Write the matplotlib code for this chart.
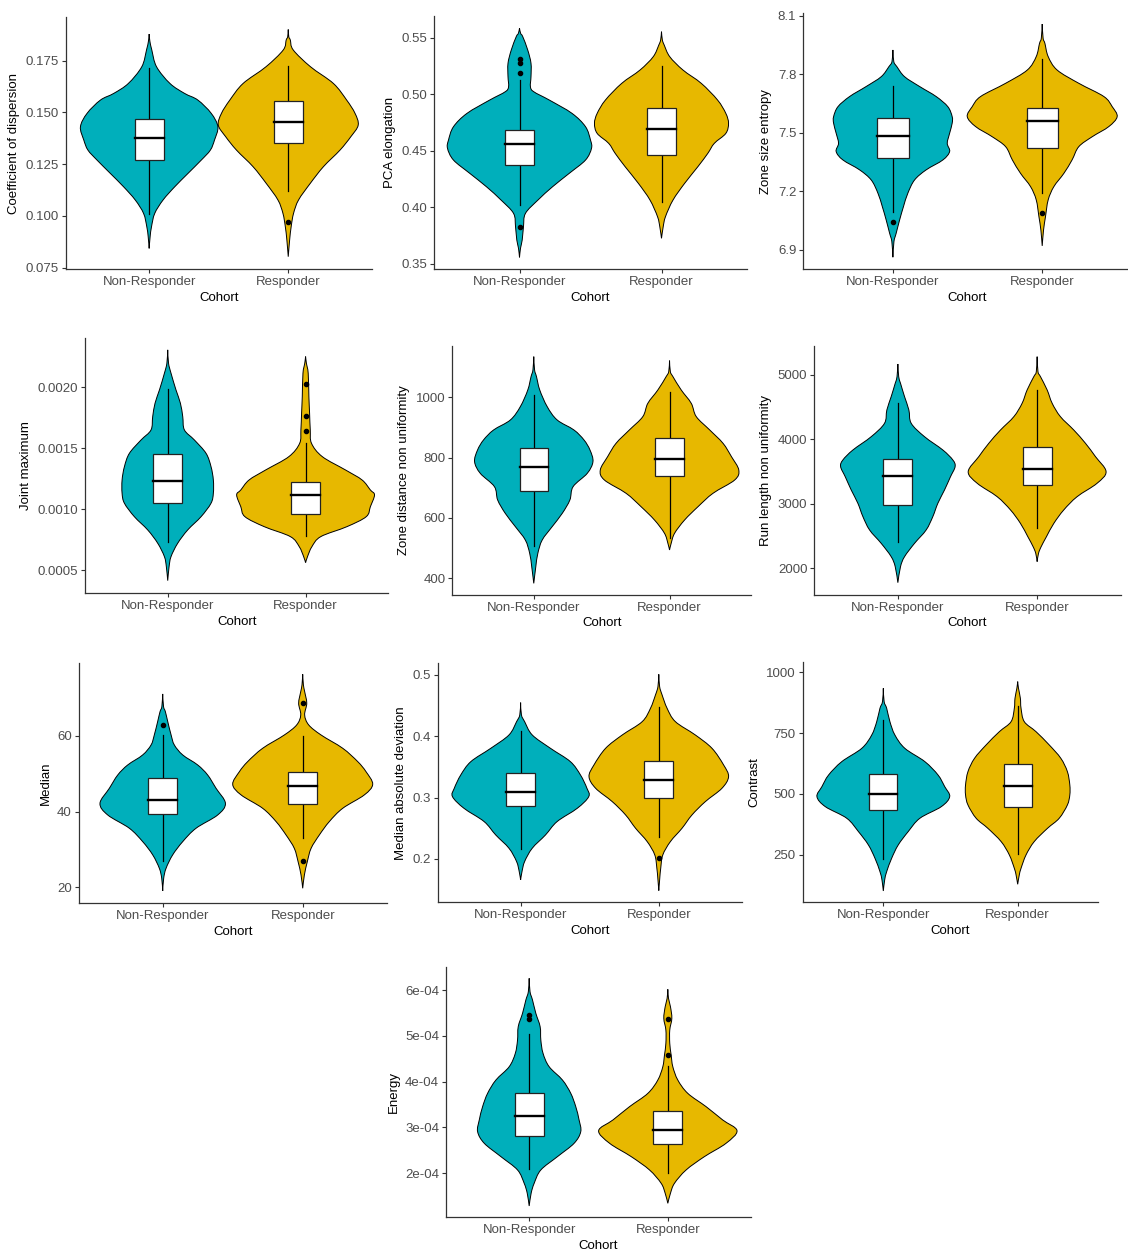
import matplotlib
matplotlib.use("Agg")
import matplotlib.pyplot as plt
from matplotlib.path import Path
from matplotlib.patches import PathPatch

plt.rcParams['font.family'] = ['Liberation Sans', 'DejaVu Sans']

groups = ["Non-Responder", "Responder"]
colors = ["#00AFBB", "#E7B800"]

# --- Coefficient of dispersion
cod_nr_y = [0.1879, 0.1845, 0.1802, 0.1721, 0.1640, 0.1592, 0.1560, 0.1496, 0.1431, 0.1367,
            0.1318, 0.1270, 0.1206, 0.1141, 0.1077, 0.1012, 0.0948, 0.0900, 0.0843]
cod_nr_w = [0, 0.005, 0.019, 0.053, 0.15, 0.255, 0.35, 0.446, 0.494, 0.47,
            0.44, 0.375, 0.28, 0.184, 0.10, 0.04, 0.017, 0.007, 0]
cod_r_y = [0.1901, 0.1866, 0.1850, 0.1802, 0.1721, 0.1640, 0.1560, 0.1496, 0.1439, 0.1383,
           0.1318, 0.1238, 0.1157, 0.1077, 0.1012, 0.0948, 0.0884, 0.0803]
cod_r_w = [0, 0.004, 0.015, 0.036, 0.16, 0.325, 0.42, 0.48, 0.503, 0.45,
           0.372, 0.253, 0.158, 0.074, 0.038, 0.021, 0.01, 0]
cod_nr_box = [0.1008, 0.1272, 0.1378, 0.1467, 0.1713]
cod_r_box = [0.1120, 0.1351, 0.1455, 0.1555, 0.1724]
cod_nr_out = []
cod_r_out = [0.0969]

# --- PCA elongation
pca_nr_y = [0.5583, 0.5538, 0.5509, 0.5391, 0.5273, 0.5156, 0.5066, 0.5022, 0.4948, 0.4830, 0.4712,
            0.4594, 0.4521, 0.4417, 0.4299, 0.4181, 0.4063, 0.3945, 0.3827, 0.3709, 0.3636, 0.3556]
pca_nr_w = [0, 0.008, 0.023, 0.058, 0.081, 0.081, 0.077, 0.10, 0.21, 0.37, 0.465,
            0.50, 0.507, 0.465, 0.35, 0.233, 0.13, 0.042, 0.028, 0.019, 0.007, 0]
pca_r_y = [0.5553, 0.5480, 0.5435, 0.5332, 0.5214, 0.5096, 0.4948, 0.4830, 0.4742, 0.4653,
           0.4565, 0.4476, 0.4358, 0.4211, 0.4063, 0.3916, 0.3827, 0.3724]
pca_r_w = [0, 0.006, 0.019, 0.058, 0.151, 0.28, 0.395, 0.453, 0.472, 0.453,
           0.372, 0.326, 0.256, 0.163, 0.081, 0.028, 0.012, 0]
pca_nr_box = [0.4019, 0.4376, 0.4559, 0.4686, 0.5125]
pca_r_box = [0.4043, 0.4462, 0.4692, 0.4875, 0.5249]
pca_nr_out = [0.531, 0.528, 0.519, 0.382]
pca_r_out = []

# --- Zone size entropy
zse_nr_y = [7.924, 7.864, 7.838, 7.787, 7.736, 7.685, 7.633, 7.582, 7.548, 7.497, 7.445,
            7.403, 7.360, 7.309, 7.257, 7.189, 7.121, 7.052, 6.984, 6.941, 6.861]
zse_nr_w = [0, 0.006, 0.027, 0.078, 0.18, 0.29, 0.368, 0.397, 0.397, 0.38, 0.364,
            0.38, 0.335, 0.223, 0.145, 0.10, 0.071, 0.045, 0.022, 0.007, 0]
zse_r_y = [8.057, 7.984, 7.958, 7.890, 7.821, 7.753, 7.685, 7.633, 7.582, 7.531,
           7.479, 7.428, 7.360, 7.291, 7.223, 7.155, 7.069, 7.001, 6.919]
zse_r_w = [0, 0.006, 0.018, 0.04, 0.10, 0.245, 0.413, 0.469, 0.502, 0.446,
           0.335, 0.245, 0.20, 0.145, 0.078, 0.04, 0.022, 0.009, 0]
zse_nr_box = [7.095, 7.368, 7.485, 7.577, 7.739]
zse_r_box = [7.192, 7.423, 7.562, 7.625, 7.876]
zse_nr_out = [7.044]
zse_r_out = [7.090]

# --- Joint maximum
jm_nr_y = [0.002307, 0.002197, 0.002115, 0.001978, 0.001869, 0.001759, 0.001650, 0.001568,
           0.001458, 0.001349, 0.001239, 0.001130, 0.001048, 0.000938, 0.000829, 0.000719,
           0.000610, 0.000528, 0.000413]
jm_nr_w = [0, 0.006, 0.024, 0.06, 0.092, 0.109, 0.121, 0.193,
           0.278, 0.314, 0.331, 0.331, 0.314, 0.242, 0.145, 0.072,
           0.024, 0.01, 0]
jm_r_y = [0.002252, 0.002197, 0.002115, 0.001923, 0.001787, 0.001650, 0.001540, 0.001431,
          0.001321, 0.001239, 0.001157, 0.001116, 0.001020, 0.000938, 0.000856, 0.000774,
          0.000692, 0.000610, 0.000560]
jm_r_w = [0, 0.006, 0.019, 0.024, 0.029, 0.034, 0.043, 0.121,
          0.29, 0.41, 0.47, 0.50, 0.47, 0.44, 0.30, 0.11,
          0.046, 0.014, 0]
jm_nr_box = [0.000733, 0.001048, 0.001228, 0.00145, 0.001986]
jm_r_box = [0.000782, 0.00096, 0.001113, 0.001225, 0.00154]
jm_nr_out = []
jm_r_out = [0.002027, 0.001765, 0.001644]

# --- Zone distance non uniformity
zdn_nr_y = [1134.8, 1090.6, 1068.5, 1024.3, 969, 925, 891.7, 858.6, 825.4, 786.7,
            748, 704, 659.7, 615.5, 571, 526.9, 482.8, 438.6, 383.4]
zdn_nr_w = [0, 0.006, 0.02, 0.044, 0.099, 0.172, 0.296, 0.37, 0.414, 0.436,
            0.394, 0.29, 0.266, 0.21, 0.135, 0.062, 0.03, 0.015, 0]
zdn_r_y = [1121.5, 1085, 1068.5, 1024.3, 980, 935.9, 891.7, 847.5, 803.3,
           759.1, 726, 681.8, 637.6, 593.4, 549.2, 516, 494]
zdn_r_w = [0, 0.006, 0.025, 0.086, 0.16, 0.197, 0.296, 0.394, 0.456,
           0.51, 0.48, 0.32, 0.21, 0.111, 0.037, 0.012, 0]
zdn_nr_box = [508.3, 689.5, 768, 833, 1007.7]
zdn_r_box = [534.8, 740.3, 795.6, 864, 1018.8]
zdn_nr_out = []
zdn_r_out = []

# --- Run length non uniformity
rln_nr_y = [5165, 4969, 4866, 4659, 4453, 4246, 4040, 3833, 3678, 3575,
            3420, 3214, 3007, 2801, 2594, 2388, 2181, 2026, 1778]
rln_nr_w = [0, 0.006, 0.019, 0.048, 0.079, 0.096, 0.191, 0.323, 0.395, 0.411,
            0.378, 0.335, 0.287, 0.251, 0.203, 0.12, 0.048, 0.019, 0]
rln_r_y = [5279, 5046, 4969, 4763, 4556, 4350, 4143, 3937, 3730,
           3498, 3317, 3110, 2904, 2697, 2491, 2336, 2233, 2104]
rln_r_w = [0, 0.006, 0.024, 0.072, 0.108, 0.167, 0.263, 0.347, 0.419,
           0.495, 0.43, 0.287, 0.191, 0.12, 0.067, 0.029, 0.01, 0]
rln_nr_box = [2403, 2976, 3431, 3689, 4556]
rln_r_box = [2630, 3291, 3534, 3885, 4763]
rln_nr_out = []
rln_r_out = []

# --- Median
med_nr_y = [71.1, 67.75, 66.43, 63.79, 60.26, 57.62, 54.98, 52.33, 49.69,
            46.17, 42.20, 39.12, 35.60, 32.07, 28.55, 25.02, 22.38, 19.03]
med_nr_w = [0, 0.006, 0.019, 0.036, 0.06, 0.083, 0.143, 0.25, 0.321,
            0.381, 0.448, 0.393, 0.238, 0.143, 0.071, 0.024, 0.007, 0]
med_r_y = [76.3, 73.5, 71.72, 68.63, 65.55, 62.91, 60.26, 56.74, 53.22, 50.57,
           47.22, 44.41, 40.88, 37.36, 33.83, 30.30, 26.78, 23.26, 19.74]
med_r_w = [0, 0.005, 0.014, 0.029, 0.014, 0.043, 0.131, 0.286, 0.393, 0.452,
           0.5, 0.44, 0.286, 0.19, 0.119, 0.06, 0.033, 0.012, 0]
med_nr_box = [27.05, 39.3, 43.0, 48.81, 60.26]
med_r_box = [33.13, 42.03, 46.87, 50.57, 60.0]
med_nr_out = [63.0]
med_r_out = [68.81, 26.96]

# --- Median absolute deviation
mad_nr_y = [0.4549, 0.4348, 0.4239, 0.4022, 0.3804, 0.3587, 0.3370, 0.3152,
            0.3016, 0.2826, 0.2609, 0.2391, 0.2174, 0.1957, 0.1793, 0.1658]
mad_nr_w = [0, 0.006, 0.029, 0.084, 0.216, 0.36, 0.433, 0.48,
            0.493, 0.41, 0.264, 0.18, 0.084, 0.029, 0.01, 0]
mad_r_y = [0.501, 0.481, 0.4674, 0.4457, 0.4239, 0.4022, 0.3804, 0.3533, 0.3342,
           0.3152, 0.2935, 0.2717, 0.2500, 0.2283, 0.2065, 0.1848, 0.1685, 0.1484]
mad_r_w = [0, 0.006, 0.024, 0.06, 0.12, 0.264, 0.385, 0.469, 0.505,
           0.457, 0.337, 0.24, 0.168, 0.084, 0.029, 0.014, 0.007, 0]
mad_nr_box = [0.2158, 0.287, 0.3092, 0.3397, 0.4087]
mad_r_box = [0.2364, 0.2989, 0.3293, 0.3598, 0.4484]
mad_nr_out = []
mad_r_out = [0.2011]

# --- Contrast
con_nr_y = [934, 879.3, 851.9, 797, 742.2, 687.3, 632.5, 577.6, 529.6,
            488.5, 447.4, 399.4, 344.5, 289.7, 234.8, 180, 145.7, 100.4]
con_nr_w = [0, 0.006, 0.025, 0.049, 0.086, 0.16, 0.309, 0.407, 0.457,
            0.494, 0.432, 0.272, 0.185, 0.111, 0.062, 0.025, 0.01, 0]
con_r_y = [961.6, 934.2, 893, 851.9, 797, 755.9, 701, 646.2, 591.3, 536.5,
           495.4, 454.2, 399.4, 358.2, 303.4, 248.5, 193.7, 166.3, 127.9]
con_r_w = [0, 0.006, 0.02, 0.025, 0.049, 0.136, 0.235, 0.321, 0.37, 0.388,
           0.388, 0.37, 0.309, 0.222, 0.123, 0.062, 0.025, 0.012, 0]
con_nr_box = [230.7, 432.3, 498.1, 580.4, 804]
con_r_box = [251.3, 446, 533.8, 621.5, 862.9]
con_nr_out = []
con_r_out = []

# --- Energy
en_nr_y = [6.255e-4, 5.964e-4, 5.782e-4, 5.491e-4, 5.2e-4, 4.909e-4, 4.618e-4, 4.327e-4,
           4.036e-4, 3.745e-4, 3.455e-4, 3.164e-4, 2.909e-4, 2.655e-4, 2.364e-4, 2.073e-4,
           1.782e-4, 1.564e-4, 1.287e-4]
en_nr_w = [0, 0.006, 0.024, 0.048, 0.079, 0.084, 0.1, 0.144,
           0.24, 0.3, 0.336, 0.36, 0.372, 0.324, 0.204, 0.084,
           0.036, 0.014, 0]
en_r_y = [6.015e-4, 5.818e-4, 5.636e-4, 5.382e-4, 5.127e-4, 4.836e-4, 4.582e-4, 4.327e-4,
          4.036e-4, 3.745e-4, 3.455e-4, 3.164e-4, 2.931e-4, 2.655e-4, 2.364e-4, 2.073e-4,
          1.782e-4, 1.564e-4, 1.345e-4]
en_r_w = [0, 0.005, 0.019, 0.029, 0.014, 0.014, 0.024, 0.036,
          0.072, 0.144, 0.276, 0.396, 0.499, 0.42, 0.264, 0.132,
          0.048, 0.019, 0]
en_nr_box = [2.102e-4, 2.822e-4, 3.258e-4, 3.76e-4, 5.04e-4]
en_r_box = [2.0e-4, 2.633e-4, 2.953e-4, 3.367e-4, 4.342e-4]
en_nr_out = [5.455e-4, 5.36e-4]
en_r_out = [5.375e-4, 4.575e-4]

# y axis: label, tick values, tick labels
panels = [
    ("Coefficient of dispersion", [0.075, 0.100, 0.125, 0.150, 0.175],
     ["0.075", "0.100", "0.125", "0.150", "0.175"],
     [(cod_nr_y, cod_nr_w, cod_nr_box, cod_nr_out), (cod_r_y, cod_r_w, cod_r_box, cod_r_out)]),
    ("PCA elongation", [0.35, 0.40, 0.45, 0.50, 0.55],
     ["0.35", "0.40", "0.45", "0.50", "0.55"],
     [(pca_nr_y, pca_nr_w, pca_nr_box, pca_nr_out), (pca_r_y, pca_r_w, pca_r_box, pca_r_out)]),
    ("Zone size entropy", [6.9, 7.2, 7.5, 7.8, 8.1],
     ["6.9", "7.2", "7.5", "7.8", "8.1"],
     [(zse_nr_y, zse_nr_w, zse_nr_box, zse_nr_out), (zse_r_y, zse_r_w, zse_r_box, zse_r_out)]),
    ("Joint maximum", [0.0005, 0.0010, 0.0015, 0.0020],
     ["0.0005", "0.0010", "0.0015", "0.0020"],
     [(jm_nr_y, jm_nr_w, jm_nr_box, jm_nr_out), (jm_r_y, jm_r_w, jm_r_box, jm_r_out)]),
    ("Zone distance non uniformity", [400, 600, 800, 1000],
     ["400", "600", "800", "1000"],
     [(zdn_nr_y, zdn_nr_w, zdn_nr_box, zdn_nr_out), (zdn_r_y, zdn_r_w, zdn_r_box, zdn_r_out)]),
    ("Run length non uniformity", [2000, 3000, 4000, 5000],
     ["2000", "3000", "4000", "5000"],
     [(rln_nr_y, rln_nr_w, rln_nr_box, rln_nr_out), (rln_r_y, rln_r_w, rln_r_box, rln_r_out)]),
    ("Median", [20, 40, 60],
     ["20", "40", "60"],
     [(med_nr_y, med_nr_w, med_nr_box, med_nr_out), (med_r_y, med_r_w, med_r_box, med_r_out)]),
    ("Median absolute deviation", [0.2, 0.3, 0.4, 0.5],
     ["0.2", "0.3", "0.4", "0.5"],
     [(mad_nr_y, mad_nr_w, mad_nr_box, mad_nr_out), (mad_r_y, mad_r_w, mad_r_box, mad_r_out)]),
    ("Contrast", [250, 500, 750, 1000],
     ["250", "500", "750", "1000"],
     [(con_nr_y, con_nr_w, con_nr_box, con_nr_out), (con_r_y, con_r_w, con_r_box, con_r_out)]),
    ("Energy", [2e-4, 3e-4, 4e-4, 5e-4, 6e-4],
     ["2e-04", "3e-04", "4e-04", "5e-04", "6e-04"],
     [(en_nr_y, en_nr_w, en_nr_box, en_nr_out), (en_r_y, en_r_w, en_r_box, en_r_out)]),
]

# panel frames in pixels (left, top, right, bottom) and y range
frames = [
    (65.7, 17.3, 371.7, 269.3, 0.0742, 0.196),
    (434.3, 16.0, 746.7, 269.3, 0.345, 0.5692),
    (803.3, 13.3, 1131.8, 269.3, 6.799, 8.112),
    (85.0, 338.3, 388.3, 593.3, 0.000309, 0.002402),
    (452.3, 346.0, 751.0, 595.0, 344.8, 1170),
    (814.3, 346.0, 1120.7, 595.0, 1587, 5444),
    (78.7, 663.3, 386.7, 903.3, 15.77, 79.2),
    (437.7, 663.3, 741.7, 902.3, 0.1293, 0.519),
    (802.7, 662.3, 1098.3, 902.3, 53.8, 1041),
    (446.0, 966.7, 751.0, 1217.3, 1.04e-4, 6.509e-4),
]


def smooth_side(pts):
    # Catmull-Rom through the outline points, written as cubic Bezier segments
    verts, codes = [], []
    n = len(pts)
    for i in range(n - 1):
        p0 = pts[max(i - 1, 0)]
        p1 = pts[i]
        p2 = pts[i + 1]
        p3 = pts[min(i + 2, n - 1)]
        c1 = (p1[0] + (p2[0] - p0[0]) / 6, p1[1] + (p2[1] - p0[1]) / 6)
        c2 = (p2[0] - (p3[0] - p1[0]) / 6, p2[1] - (p3[1] - p1[1]) / 6)
        verts += [c1, c2, p2]
        codes += [Path.CURVE4] * 3
    return verts, codes


def violin_path(x, ys, ws):
    right = [(x + w, y) for y, w in zip(ys, ws)]
    left = [(x - w, y) for y, w in zip(ys, ws)][::-1]
    v1, c1 = smooth_side(right)
    v2, c2 = smooth_side(left)
    verts = [right[0]] + v1 + v2 + [right[0]]
    codes = [Path.MOVETO] + c1 + c2 + [Path.CLOSEPOLY]
    return Path(verts, codes)


W, H = 1128, 1255
fig = plt.figure(figsize=(W / 100, H / 100), dpi=100)

box_half = 0.105

for (ylabel, ticks, ticklabels, data), (l, t, r, b, y0, y1) in zip(panels, frames):
    ax = fig.add_axes([l / W, 1 - b / H, (r - l) / W, (b - t) / H])
    for i, (vy, vw, bx, outl) in enumerate(data):
        x = i + 1
        ax.add_patch(PathPatch(violin_path(x, vy, vw), facecolor=colors[i],
                               edgecolor="black", linewidth=0.7, zorder=2))
        lo, q1, med, q3, hi = bx
        ax.plot([x, x], [lo, q1], color="black", lw=0.9, zorder=3)
        ax.plot([x, x], [q3, hi], color="black", lw=0.9, zorder=3)
        ax.add_patch(plt.Rectangle((x - box_half, q1), 2 * box_half, q3 - q1,
                                   facecolor="white", edgecolor="#222222", lw=0.9, zorder=4))
        ax.plot([x - box_half, x + box_half], [med, med], color="black", lw=1.7, zorder=5)
        if outl:
            ax.scatter([x] * len(outl), outl, s=9, color="black", zorder=6)
    ax.set_xlim(0.4, 2.6)
    ax.set_ylim(y0, y1)
    ax.set_xticks([1, 2])
    ax.set_xticklabels(groups)
    ax.set_yticks(ticks)
    ax.set_yticklabels(ticklabels)
    ax.set_xlabel("Cohort", fontsize=9.5, labelpad=2.5)
    ax.set_ylabel(ylabel, fontsize=9.5, labelpad=4)
    for side in ("top", "right"):
        ax.spines[side].set_visible(False)
    for side in ("left", "bottom"):
        ax.spines[side].set_color("#333333")
        ax.spines[side].set_linewidth(0.9)
    ax.tick_params(axis="both", length=3, width=0.8, color="#333333",
                   labelcolor="#4D4D4D", labelsize=9.5, pad=2)

fig.savefig("out.png", dpi=100, facecolor="white")
